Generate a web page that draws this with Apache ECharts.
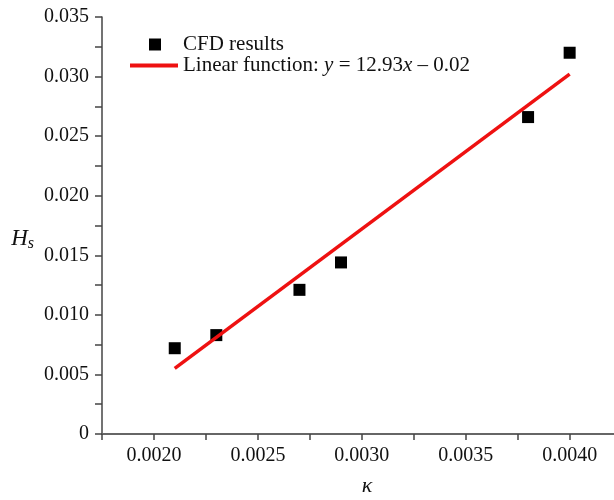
<!DOCTYPE html>
<html><head><meta charset="utf-8">
<script src="https://cdn.jsdelivr.net/npm/echarts@6/dist/echarts.min.js"></script>
<style>html,body{margin:0;padding:0;background:#fff}#c{width:614px;height:500px}</style>
</head><body><div id="c"></div>
<script>
const kappa = [0.0021, 0.0023, 0.0027, 0.0029, 0.0038, 0.0040];
const hs = [0.0072, 0.0083, 0.0121, 0.0144, 0.0266, 0.0320];
const fitX = [0.0021, 0.0040];
const fitY = [0.0055, 0.0302];
const xTickLabels = [0.0020, 0.0025, 0.0030, 0.0035, 0.0040];
const yTickLabels = [0, 0.005, 0.010, 0.015, 0.020, 0.025, 0.030, 0.035];

const F = 'Liberation Serif';
const chart = echarts.init(document.getElementById('c'));
chart.setOption({
  animation: false,
  grid: {left: 102, top: 17, right: -18, bottom: 66, show: false, containLabel: false, outerBoundsMode: 'none'},
  legend: [
    {data: ['CFD results'], left: 144, top: 29, itemWidth: 12, itemHeight: 12, orient: 'vertical',
     textStyle: {fontFamily: F, fontSize: 21, color: '#111', padding: [0,0,0,17]}},
    {data: [{name: 'Linear function', icon: 'rect'}], left: 125, top: 50, itemWidth: 48, itemHeight: 4, orient: 'vertical',
     formatter: () => 'Linear function: {i|y} = 12.93{i|x} – 0.02',
     textStyle: {fontFamily: F, fontSize: 21, color: '#111',
       rich: {i: {fontFamily: F, fontSize: 21, fontStyle: 'italic', color: '#111'}}}}
  ],
  xAxis: [{
    type: 'value', min: 0.00175, max: 0.0043, interval: 0.00025,
    name: 'κ', nameLocation: 'middle', nameGap: 41,
    nameTextStyle: {fontFamily: F, fontSize: 22, fontStyle: 'italic', color: '#111', padding: [0,0,0,0]},
    axisLine: {show: true, onZero: false, lineStyle: {color: '#444', width: 1.5}},
    axisTick: {show: true, inside: false, length: 6, lineStyle: {color: '#444', width: 1.5}},
    axisLabel: {customValues: xTickLabels, margin: 12, fontFamily: F, fontSize: 20, color: '#111',
      formatter: v => v.toFixed(4)},
    splitLine: {show: false}
  }, {
    type: 'value', position: 'top', min: 0.00175, max: 0.0043,
    axisLine: {show: true, lineStyle: {color: '#666', width: 2}},
    axisTick: {show: false}, axisLabel: {show: false}, splitLine: {show: false}
  }],
  yAxis: {
    type: 'value', min: 0, max: 0.035, interval: 0.0025,
    name: '{h|H}{s|s}', nameLocation: 'middle', nameGap: 68, nameRotate: 0,
    nameTextStyle: {rich: {
      h: {fontFamily: F, fontSize: 23, fontStyle: 'italic', color: '#111', padding: [26,0,0,0]},
      s: {fontFamily: F, fontSize: 16, fontStyle: 'italic', color: '#111', padding: [36,0,0,0]}}},
    axisLine: {show: true, lineStyle: {color: '#444', width: 1.5}},
    axisTick: {show: true, length: 7, lineStyle: {color: '#444', width: 1.5}},
    axisLabel: {customValues: yTickLabels, margin: 13, fontFamily: F, fontSize: 20, color: '#111',
      formatter: v => v === 0 ? '0' : v.toFixed(3)},
    splitLine: {show: false}
  },
  series: [
    {name: 'CFD results', type: 'scatter', symbol: 'rect', symbolSize: 12,
     itemStyle: {color: '#000', opacity: 1}, data: kappa.map((k, i) => [k, hs[i]]), z: 3},
    {name: 'Linear function', type: 'line', showSymbol: false, symbol: 'none',
     lineStyle: {color: '#ee1111', width: 3.5}, itemStyle: {color: '#ee1111'},
     data: fitX.map((k, i) => [k, fitY[i]]), z: 4}
  ]
});
</script></body></html>
